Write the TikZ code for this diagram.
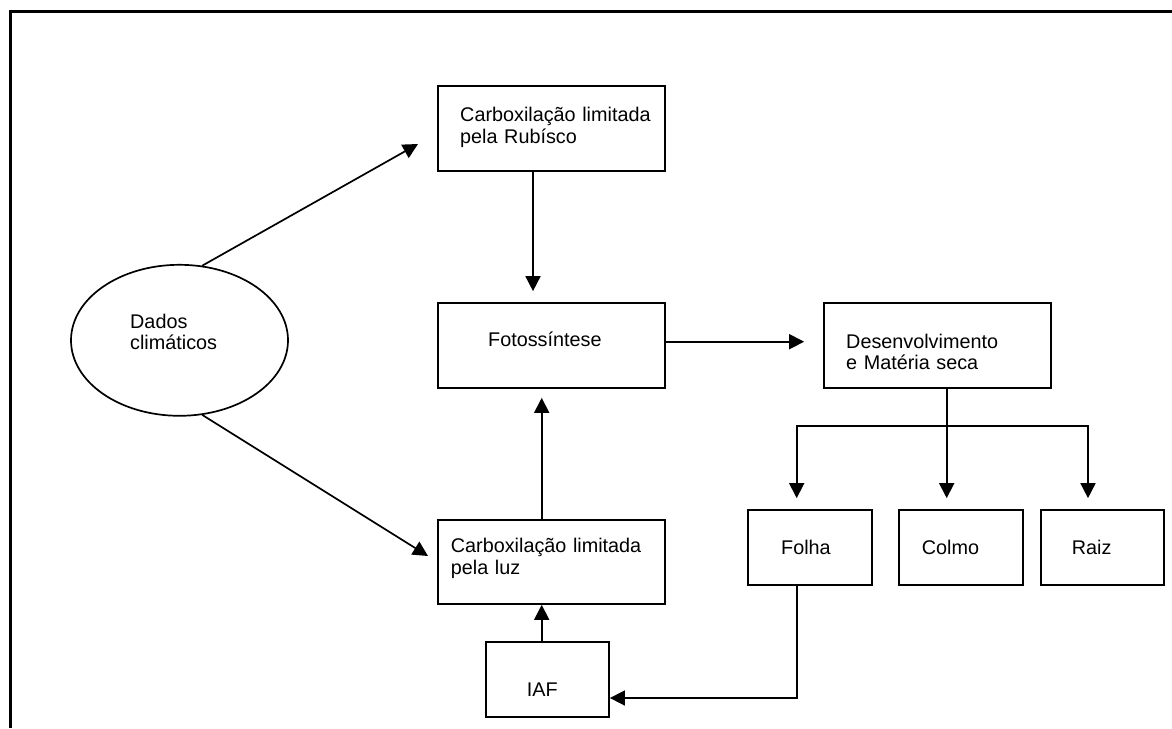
\documentclass[tikz,border=0pt]{standalone}
\usepackage{fontspec}
\setmainfont{Liberation Sans}
\usetikzlibrary{arrows.meta,shapes.geometric}
\begin{document}
\begin{tikzpicture}[x=1pt,y=-1pt,
  box/.style={draw, line width=1.7pt, rectangle, inner sep=0pt},
  lbl/.style={anchor=base west, inner sep=0pt, align=left, text width=#1,
    font=\fontsize{19.8}{21.6}\selectfont},
  lbl/.default=220pt,
  conn/.style={line width=1.7pt},
  arr/.style={line width=1.7pt, -{Triangle[width=15pt,length=15pt]}}]
\useasboundingbox (0,0) rectangle (1172,728);
% outer frame (only top and left edges visible)
\coordinate (fbl) at (10.5,728);
\coordinate (ftl) at (10.5,11.3);
\coordinate (ftr) at (1172,11.3);
\draw[line width=2.4pt] (fbl) -- (ftl) -- (ftr);

% nodes
\node[draw, ellipse, line width=1.7pt, minimum width=217pt, minimum height=151pt, inner sep=0pt] (dados) at (179.5,340.3) {};
\node[box, minimum width=227pt, minimum height=85pt] (rub) at (551.5,128.5) {};
\node[box, minimum width=227pt, minimum height=85pt] (foto) at (551.5,345.5) {};
\node[box, minimum width=227pt, minimum height=85pt] (dev) at (937.5,345.5) {};
\node[box, minimum width=227pt, minimum height=84pt] (luz) at (551.5,562) {};
\node[box, minimum width=123.3pt, minimum height=75.3pt] (iaf) at (547.4,679.4) {};
\node[box, minimum width=124pt, minimum height=75pt] (folha) at (810,547.5) {};
\node[box, minimum width=124pt, minimum height=75pt] (colmo) at (961,547.5) {};
\node[box, minimum width=123pt, minimum height=75pt] (raiz) at (1102.5,547.5) {};

% labels
\node[lbl=140pt] (tdados) at (130,328.3) {Dados\\climáticos};
\node[lbl] (trub) at (460,121.7) {Carboxilação limitada\\pela Rubísco};
\node[lbl] (tfoto) at (488,346.7) {Fotossíntese};
\node[lbl] (tdev) at (846,348.3) {Desenvolvimento\\e Matéria seca};
\node[lbl] (tluz) at (450.7,552.7) {Carboxilação limitada\\pela luz};
\node[lbl=80pt] (tiaf) at (526.7,696) {IAF};
\node[lbl=80pt] (tfolha) at (781,554) {Folha};
\node[lbl=80pt] (tcolmo) at (921.7,554) {Colmo};
\node[lbl=80pt] (traiz) at (1071.7,554) {Raiz};

% connectors
\coordinate (a1) at (418,144);
\coordinate (a2) at (428,556);
\draw[arr] (dados.73) -- (a1);
\draw[arr] (dados.-73) -- (a2);
\draw[arr, shorten >=11pt] ([xshift=-18.5pt]rub.south) -- ([xshift=-18.5pt]foto.north);
\draw[arr, shorten >=9pt] ([xshift=-9.8pt]luz.north) -- ([xshift=-9.8pt]foto.south);
\draw[arr] ([xshift=-5.7pt]iaf.north) -- ([xshift=-5.7pt]iaf.north |- luz.south);
\draw[arr, shorten >=19pt] ([yshift=3.8pt]foto.east) -- ([yshift=3.8pt]foto.east -| dev.west);
\draw[conn] ([xshift=9.2pt]dev.south) -- ++(0,37) coordinate (jn);
\draw[arr, shorten >=11pt] (jn) -| ([xshift=-13.3pt]folha.north);
\draw[arr, shorten >=11pt] (jn) -- ([xshift=-14.3pt]colmo.north);
\draw[arr, shorten >=11pt] (jn) -| ([xshift=-14.5pt]raiz.north);
\draw[arr] ([xshift=-13.3pt]folha.south) |- ([yshift=-18.6pt]iaf.east);
\end{tikzpicture}
\end{document}
